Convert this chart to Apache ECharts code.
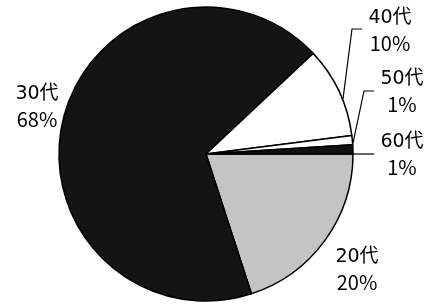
<!DOCTYPE html>
<html>
<head>
<meta charset="utf-8">
<script src="https://cdn.jsdelivr.net/npm/echarts@6/dist/echarts.min.js"></script>
<style>html,body{margin:0;padding:0;background:#fff}#c{width:433px;height:306px}</style>
</head>
<body>
<div id="c"></div>
<script>
const categories = ['20代', '30代', '40代', '50代', '60代'];
const values = [20, 68, 10, 1, 1];

const sliceColors = ['#c4c4c4', '#141414', '#ffffff', '#ffffff', '#111111'];
const labelPos = [[357, 269], [37, 106], [390, 30], [402, 91], [402, 154]];
const leaderLines = [
  null,
  null,
  [[343, 99], [352, 29], [362, 29]],
  [[353, 143], [364, 91], [374, 91]],
  [[351, 154], [362, 154], [374, 154]]
];

const chart = echarts.init(document.getElementById('c'));
chart.setOption({
  animation: false,
  backgroundColor: '#fff',
  series: [{
    type: 'pie',
    center: [206, 154],
    radius: 147,
    startAngle: 0,
    clockwise: true,
    avoidLabelOverlap: false,
    data: categories.map((c, i) => ({
      name: c,
      value: values[i],
      itemStyle: { color: sliceColors[i] },
      labelLine: { show: !!leaderLines[i] }
    })),
    itemStyle: { borderColor: '#000', borderWidth: 1.5 },
    label: {
      show: true,
      position: 'outside',
      formatter: p => '{n|' + p.name + '}\n{p|' + p.value + '%}',
      color: '#000',
      align: 'center',
      rich: {
        n: { fontFamily: 'DejaVu Sans, Noto Sans CJK JP', fontSize: 19, lineHeight: 26, color: '#000', align: 'center' },
        p: { fontFamily: 'Noto Sans CJK JP', fontSize: 20, lineHeight: 24, color: '#000', align: 'center' }
      }
    },
    labelLine: { show: true, lineStyle: { color: '#000', width: 1.2 } },
    labelLayout: function (params) {
      const i = params.dataIndex;
      const o = { x: labelPos[i][0], y: labelPos[i][1], align: 'center', verticalAlign: 'middle' };
      if (leaderLines[i]) o.labelLinePoints = leaderLines[i];
      return o;
    }
  }]
});
</script>
</body>
</html>
